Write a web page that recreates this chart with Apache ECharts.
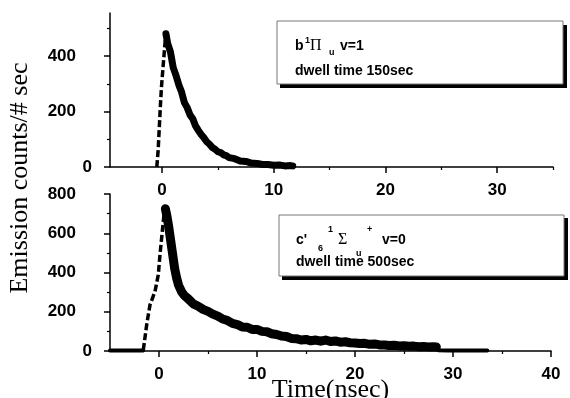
<!DOCTYPE html>
<html>
<head>
<meta charset="utf-8">
<script src="https://cdn.jsdelivr.net/npm/echarts@6/dist/echarts.min.js"></script>
<style>
html,body{margin:0;padding:0;background:#fff;}
#chart{width:570px;height:398px;}
</style>
</head>
<body>
<div id="chart"></div>
<script>
// ---------- data ----------
// Top panel: b 1Πu v=1
var topRiseX = [-0.47, -0.35, -0.25, -0.15, -0.05, 0.05, 0.15, 0.25, 0.35];
var topRiseY = [0, 60, 140, 220, 290, 340, 390, 440, 480];
var topDecayX = [0.35, 0.5, 0.75, 1.0, 1.25, 1.5, 1.75, 2.0, 2.25, 2.5, 2.75, 3.0, 3.25, 3.5, 3.75, 4.0, 4.25, 4.5, 4.75, 5.0, 5.25, 5.5, 5.75, 6.0, 6.5, 7.0, 7.5, 8.0, 8.5, 9.0, 9.5, 10.0, 10.5, 11.0, 11.5, 11.7];
var topDecayY = [480, 446, 415, 358, 330, 296, 270, 232, 214, 188, 174, 148, 132, 117, 105, 91, 82, 70, 64, 55, 52, 44, 41, 34, 30, 22, 20, 14, 13, 9, 9, 6, 7, 4, 5, 4];

// Bottom panel: c'6 1Σu+ v=0
var botBaseX = [-5, -4, -3, -2, -1.6];
var botBaseY = [2, 2, 2, 2, 3];
var botRiseX = [-1.6, -1.26, -0.92, -0.41, -0.07, 0.1, 0.27, 0.44, 0.61];
var botRiseY = [5, 133, 235, 303, 389, 491, 576, 661, 730];
var botDecayX = [0.65, 0.8, 1.0, 1.2, 1.4, 1.6, 1.8, 2.0, 2.3, 2.6, 3.0, 3.5, 4.0, 4.5, 5.0, 5.5, 6.0, 6.5, 7.0, 7.5, 8.0, 8.5, 9.0, 9.5, 10.0, 10.5, 11.0, 11.5, 12.0, 12.5, 13.0, 13.5, 14.0, 14.5, 15.0, 15.5, 16.0, 16.5, 17.0, 17.5, 18.0, 18.5, 19.0, 19.5, 20.0, 20.5, 21.0, 21.5, 22.0, 22.5, 23.0, 23.5, 24.0, 24.5, 25.0, 25.5, 26.0, 26.5, 27.0, 27.5, 28.0, 28.3];
var botDecayY = [725, 690, 630, 560, 490, 420, 372, 335, 302, 282, 265, 240, 228, 212, 202, 188, 178, 163, 155, 141, 135, 122, 121, 110, 110, 100, 98, 88, 84, 76, 74, 64, 63, 56, 59, 52, 56, 50, 56, 48, 51, 45, 47, 42, 41, 38, 39, 34, 36, 31, 31, 28, 29, 26, 27, 24, 25, 22, 23, 21, 22, 20];
var botTailX = [28.3, 28.5, 29.5, 30.5, 31.5, 32.5, 33.5];
var botTailY = [20, 4, 3, 3, 2, 2, 2];

// ticks / labels
var topYLabels = [0, 200, 400];
var topYMinor = [100, 300, 500];
var topXLabels = [0, 10, 20, 30];
var topXMinor = [5, 15, 25, 35];
var botYLabels = [0, 200, 400, 600, 800];
var botYMinor = [100, 300, 500, 700];
var botXLabels = [0, 10, 20, 30, 40];
var botXMinor = [5, 15, 25, 35];

function pairs(xs, ys) { return xs.map(function (x, i) { return [x, ys[i]]; }); }

var tickFont = '"Liberation Sans", Arial, sans-serif';
var yLabelStyle = {
  show: true, margin: 18, color: '#000', fontFamily: tickFont, fontWeight: 'bold', fontSize: 17,
  formatter: function (v) { return v === 0 ? '0' : v + '{s| }'; },
  rich: { s: { width: 16 } }
};
function xLabelStyle() {
  return { show: true, margin: 15, color: '#000', fontFamily: tickFont, fontWeight: 'bold', fontSize: 17 };
}
var axLine = { show: true, onZero: false, lineStyle: { color: '#000', width: 1.5 } };

function mainX(grid, min, max, labels) {
  return {
    type: 'value', gridIndex: grid, min: min, max: max, position: 'bottom',
    axisLine: axLine, splitLine: { show: false },
    axisTick: { show: true, customValues: labels, length: 6, lineStyle: { color: '#000', width: 1.5 } },
    axisLabel: Object.assign(xLabelStyle(), { customValues: labels })
  };
}
function minorX(grid, min, max, vals) {
  return {
    type: 'value', gridIndex: grid, min: min, max: max, position: 'bottom',
    axisLine: { show: false, onZero: false }, splitLine: { show: false }, axisLabel: { show: false },
    axisTick: { show: true, customValues: vals, length: 3, lineStyle: { color: '#000', width: 1.2 } }
  };
}
function mainY(grid, min, max, labels) {
  return {
    type: 'value', gridIndex: grid, min: min, max: max, position: 'left',
    axisLine: axLine, splitLine: { show: false },
    axisTick: { show: true, customValues: labels, length: 6, lineStyle: { color: '#000', width: 1.5 } },
    axisLabel: Object.assign({}, yLabelStyle, { customValues: labels })
  };
}
function minorY(grid, min, max, vals) {
  return {
    type: 'value', gridIndex: grid, min: min, max: max, position: 'left',
    axisLine: { show: false, onZero: false }, splitLine: { show: false }, axisLabel: { show: false },
    axisTick: { show: true, customValues: vals, length: 3, lineStyle: { color: '#000', width: 1.2 } }
  };
}

function thick(xi, yi, data, w) {
  return {
    type: 'line', xAxisIndex: xi, yAxisIndex: yi, data: data, showSymbol: false, silent: true,
    lineStyle: { color: '#000', width: w, join: 'round', cap: 'round' }
  };
}
function dashed(xi, yi, data) {
  return {
    type: 'line', xAxisIndex: xi, yAxisIndex: yi, data: data, showSymbol: false, silent: true,
    lineStyle: { color: '#000', width: 3.5, type: [7, 3] }
  };
}

var boldFont = 'bold 14px "Liberation Sans", Arial, sans-serif';
var smallFont = 'bold 9px "Liberation Sans", Arial, sans-serif';
var greekFont = '16px "Liberation Serif", "Times New Roman", serif';
function txt(t, x, y, font) {
  return { type: 'text', x: x, y: y, silent: true,
    style: { text: t, font: font, fill: '#000', align: 'left', verticalAlign: 'bottom' } };
}

var chart = echarts.init(document.getElementById('chart'), null, { renderer: 'canvas' });
chart.setOption({
  animation: false,
  backgroundColor: '#fff',
  grid: [
    { left: 110, top: 13, width: 443, height: 154, outerBoundsMode: 'none', containLabel: false },
    { left: 110, top: 194, width: 441, height: 157, outerBoundsMode: 'none', containLabel: false }
  ],
  xAxis: [
    mainX(0, -4.66, 35, topXLabels),
    minorX(0, -4.66, 35, topXMinor),
    Object.assign(mainX(1, -5, 40, botXLabels), {
      name: 'Time(nsec)', nameLocation: 'middle', nameGap: 26, nameMoveOverlap: false,
      nameTextStyle: { fontFamily: '"Liberation Serif", "Times New Roman", serif', fontSize: 26, color: '#000' }
    }),
    minorX(1, -5, 40, botXMinor)
  ],
  yAxis: [
    mainY(0, 0, 555, topYLabels),
    minorY(0, 0, 555, topYMinor),
    mainY(1, 0, 800, botYLabels),
    minorY(1, 0, 800, botYMinor)
  ],
  series: [
    dashed(0, 0, pairs(topRiseX, topRiseY)),
    thick(0, 0, pairs(topDecayX, topDecayY), 7),
    thick(2, 2, pairs(botBaseX, botBaseY), 4),
    dashed(2, 2, pairs(botRiseX, botRiseY)),
    thick(2, 2, pairs(botDecayX, botDecayY), 9),
    thick(2, 2, pairs(botTailX, botTailY), 4)
  ],
  graphic: [
    { type: 'text', x: 20, y: 178, rotation: Math.PI / 2, silent: true,
      style: { text: 'Emission counts/# sec', font: '26px "Liberation Serif", "Times New Roman", serif',
        fill: '#000', align: 'center', verticalAlign: 'middle' } },
    // top box
    { type: 'rect', shape: { x: 280, y: 25, width: 287, height: 63 }, style: { fill: '#000' }, silent: true },
    { type: 'rect', shape: { x: 277, y: 21, width: 286, height: 63 }, style: { fill: '#fff', stroke: '#777', lineWidth: 1 }, silent: true },
    txt('b', 295, 53, boldFont),
    txt('1', 305, 45, smallFont),
    txt('\u03A0', 310, 54, greekFont),
    txt('u', 329, 57, smallFont),
    txt('v=1', 340, 53, boldFont),
    txt('dwell time 150sec', 295, 78, boldFont),
    // bottom box
    { type: 'rect', shape: { x: 282, y: 218, width: 286, height: 62 }, style: { fill: '#000' }, silent: true },
    { type: 'rect', shape: { x: 279, y: 215, width: 285, height: 61 }, style: { fill: '#fff', stroke: '#777', lineWidth: 1 }, silent: true },
    txt("c'", 296, 247, boldFont),
    txt('6', 318, 253, smallFont),
    txt('1', 328, 234, smallFont),
    txt('\u03A3', 338, 248, greekFont),
    txt('u', 356, 258, smallFont),
    txt('+', 367, 234, smallFont),
    txt('v=0', 382, 247, boldFont),
    txt('dwell time 500sec', 296, 269, boldFont)
  ]
});
</script>
</body>
</html>
